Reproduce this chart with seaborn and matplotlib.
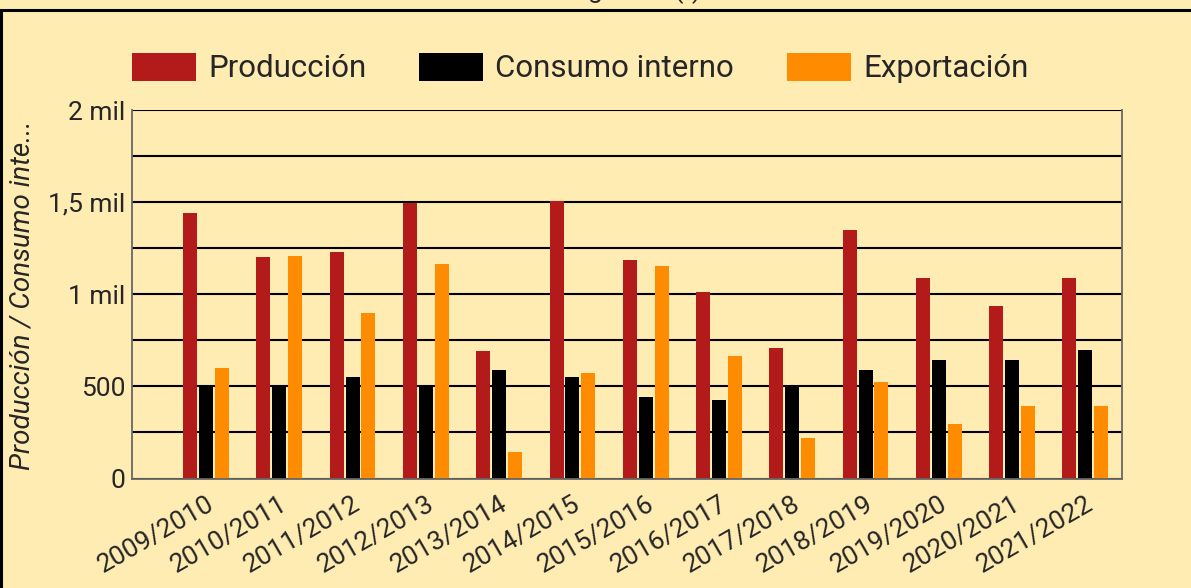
import matplotlib
matplotlib.use("Agg")
import matplotlib.pyplot as plt
import matplotlib.transforms as mtransforms
from matplotlib.lines import Line2D
from matplotlib.ticker import MultipleLocator
import pandas as pd
import seaborn as sns

# ---------------------------------------------------------------
# Datos
# ---------------------------------------------------------------
temporadas = ["2009/2010", "2010/2011", "2011/2012", "2012/2013", "2013/2014",
              "2014/2015", "2015/2016", "2016/2017", "2017/2018", "2018/2019",
              "2019/2020", "2020/2021", "2021/2022"]
produccion = [1440, 1200, 1230, 1495, 690, 1505, 1185, 1010, 710, 1350, 1090, 935, 1090]
consumo = [500, 500, 550, 500, 590, 550, 440, 425, 500, 590, 645, 645, 700]
exportacion = [600, 1210, 900, 1165, 145, 570, 1155, 665, 220, 525, 295, 395, 395]

series = ["Producción", "Consumo interno", "Exportación"]
colores = ["#B31B1B", "#000000", "#FF8C00"]
y_ticks = [0, 500, 1000, 1500, 2000]
y_labels = ["0", "500", "1 mil", "1,5 mil", "2 mil"]

BG = "#FFECB3"
W, H = 1191, 588

df = pd.DataFrame({
    "temporada": temporadas,
    series[0]: produccion,
    series[1]: consumo,
    series[2]: exportacion,
}).melt(id_vars="temporada", var_name="serie", value_name="valor")

sns.set_theme(style="white")
plt.rcParams["font.family"] = ["Roboto", "DejaVu Sans"]

fig = plt.figure(figsize=(W / 100, H / 100), dpi=100, facecolor=BG)
ax = fig.add_axes([132 / W, 1 - 478.5 / H, (1122 - 132) / W, (478.5 - 110) / H])
ax.set_facecolor(BG)

sns.barplot(data=df, x="temporada", y="valor", hue="serie", hue_order=series,
            palette=colores, saturation=1, width=0.65, gap=0.12,
            errorbar=None, linewidth=0, edgecolor="none", ax=ax)

handles, labels = ax.get_legend_handles_labels()
ax.get_legend().remove()

ax.set_xlim(-1.01, 12.5)
ax.set_ylim(0, 2000)
ax.set_yticks(y_ticks)
ax.set_yticklabels(y_labels)
ax.yaxis.set_minor_locator(MultipleLocator(250))
ax.set_axisbelow(True)
ax.grid(axis="y", which="both", color="black", lw=1.5)
ax.grid(axis="x", visible=False)
ax.set_xlabel("")
ax.set_ylabel("")
ax.tick_params(axis="both", which="both", length=0)
ax.tick_params(axis="y", labelsize=19, pad=5)
ax.tick_params(axis="x", labelsize=19, pad=17)
offset = mtransforms.ScaledTranslation(6 / 100, 0, fig.dpi_scale_trans)
for lbl in ax.get_xticklabels():
    lbl.set_rotation(30)
    lbl.set_ha("right")
    lbl.set_va("center")
    lbl.set_rotation_mode("anchor")
    lbl.set_transform(lbl.get_transform() + offset)

for s in ["left", "bottom", "right"]:
    ax.spines[s].set_color("#666666")
    ax.spines[s].set_linewidth(1.3)
ax.spines["top"].set_visible(False)

fig.legend(handles, labels, loc="center left",
           bbox_to_anchor=(132 / W, 1 - 68 / H), ncol=3, frameon=False,
           fontsize=22.5, handlelength=2.05, handleheight=1.03,
           handletextpad=0.38, columnspacing=1.7, borderpad=0,
           borderaxespad=0)

fig.text(23 / W, 1 - 295 / H, "Producción / Consumo inte...", rotation=90,
         fontstyle="italic", fontsize=20, ha="center", va="center")

# título recortado por el borde superior
fig.text(600 / W, 1 + 1.5 / H, "Rubro agrícola (t)", ha="center",
         va="baseline", fontsize=19)

# marco del contenedor
fig.add_artist(Line2D([0, 1], [1 - 9.5 / H] * 2, transform=fig.transFigure,
                      color="black", lw=2.2))
fig.add_artist(Line2D([1 / W] * 2, [0, 1 - 9.5 / H], transform=fig.transFigure,
                      color="black", lw=2.2))

fig.savefig("out.png", dpi=100, facecolor=BG)
